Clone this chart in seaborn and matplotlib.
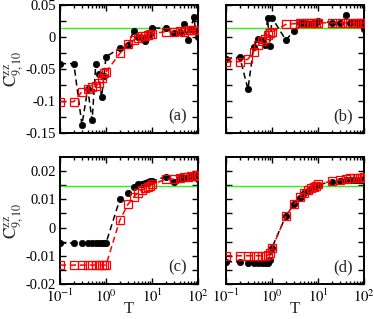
import numpy as np
import pandas as pd
import matplotlib
matplotlib.use('Agg')
import matplotlib.pyplot as plt
import seaborn as sns
from matplotlib.ticker import FixedLocator, FixedFormatter, LogLocator, NullFormatter

# temperature grid
T = [0.1, 0.2, 0.3, 0.4, 0.5, 0.6, 0.7, 0.8, 0.9,
     1, 2, 3, 4, 5, 6, 7, 8, 9,
     10, 20, 30, 40, 50, 60, 70, 80, 90, 100]

# (a)
a_black = [-0.042, -0.042, -0.138, -0.082, -0.131, -0.042, -0.058, -0.095, -0.062,
           -0.031, -0.018, -0.012, 0.009, 0.000, -0.002, -0.006, 0.002, 0.004,
           0.014, 0.0135, 0.006, 0.008, 0.020, -0.005, 0.012, 0.031, 0.010, 0.000]
a_red = [-0.1016, -0.1016, -0.086, -0.082, -0.078, -0.077, -0.073, -0.065, -0.056,
         -0.055, -0.026, -0.0115, -0.005, -0.001, 0.001, 0.002, 0.0036, 0.004,
         0.005, 0.0083, 0.0073, 0.0094, 0.008, 0.0104, 0.0104, 0.0115, 0.0104, 0.0115]

# (b)
b_black = [-0.034, -0.032, -0.082, -0.0156, -0.0026, -0.005, -0.013, 0.029, -0.0146,
           0.030, -0.005, 0.0094, 0.021, 0.021, 0.020, 0.020, 0.021, 0.022,
           0.025, 0.022, 0.021, 0.034, 0.022, 0.023, 0.021, 0.022, 0.022, 0.013]
b_red = [-0.039, -0.039, -0.035, -0.023, -0.013, -0.006, -0.0026, 0.0026, 0.006,
         0.008, 0.0195, 0.0206, 0.021, 0.022, 0.022, 0.022, 0.022, 0.022,
         0.022, 0.022, 0.022, 0.022, 0.022, 0.022, 0.022, 0.022, 0.022, 0.022]

# (c)
c_black = [-0.0055] * 10 + [0.010, 0.0121, 0.0145, 0.0153, 0.0156, 0.0159, 0.016, 0.0165,
                            0.0165, 0.018, 0.016, 0.0176, 0.0176, 0.018, 0.0182, 0.0184, 0.0182, 0.0172]
c_red = [-0.0133] * 10 + [0.0027, 0.0082, 0.0108, 0.0124, 0.0133, 0.0139, 0.0144, 0.0149,
                          0.0153, 0.0171, 0.0173, 0.0176, 0.018, 0.018, 0.0182, 0.0182, 0.0182, 0.0185]

# (d)
d_black = [-0.0121, -0.0121, -0.0124, -0.0124, -0.0124, -0.0124, -0.0124, -0.0124, -0.0115,
           -0.0071, 0.0041, 0.0082, 0.0106, 0.0122, 0.0131, 0.0137, 0.0143, 0.0147,
           0.0151, 0.0163, 0.0165, 0.0168, 0.0168, 0.0169, 0.0169, 0.017, 0.017, 0.0172]
d_red = [-0.010, -0.010, -0.010, -0.010, -0.010, -0.010, -0.010, -0.0098, -0.009,
         -0.0074, 0.0041, 0.0082, 0.0108, 0.0124, 0.0133, 0.0139, 0.0145, 0.0149,
         0.0153, 0.0165, 0.0168, 0.0173, 0.0174, 0.0175, 0.0176, 0.0176, 0.0177, 0.0178]

ref_level = 0.0147
panel_tags = ['(a)', '(b)', '(c)', '(d)']
top_yticks = [-0.15, -0.1, -0.05, 0, 0.05]
top_ylabels = ['-0.15', '-0.1', '-0.05', '0', '0.05']
bot_yticks = [-0.02, -0.01, 0, 0.01, 0.02]
bot_ylabels = ['-0.02', '-0.01', '0', '0.01', '0.02']
xticks = [0.1, 1, 10, 100]
xlabels = [r'$10^{-1}$', r'$10^{0}$', r'$10^{1}$', r'$10^{2}$']

sns.set_theme(style='ticks')
plt.rcParams['font.family'] = ['Liberation Serif', 'DejaVu Serif']
plt.rcParams['mathtext.fontset'] = 'stix'
plt.rcParams['axes.unicode_minus'] = False

fig = plt.figure(figsize=(3.74, 3.19), dpi=100)
W, H = 374, 319
boxes = [(60, 5, 138, 127.5), (226, 5, 138, 127.5),
         (60, 157, 138, 127), (226, 157, 138, 127)]
series = [(a_black, a_red), (b_black, b_red), (c_black, c_red), (d_black, d_red)]

for i, ((x0, y0, w, h), (blk, red)) in enumerate(zip(boxes, series)):
    ax = fig.add_axes([x0 / W, 1 - (y0 + h) / H, w / W, h / H])
    ax.axhline(ref_level, color='#33ee11', lw=1.0, zorder=1)
    df = pd.DataFrame({'T': T, 'black': blk, 'red': red})
    sns.lineplot(data=df, x='T', y='black', ax=ax, color='black',
                 lw=1.1, marker='o', markersize=4.6, markeredgecolor='black',
                 markerfacecolor='black', markeredgewidth=0.5, zorder=2)
    ax.lines[-1].set_linestyle((0, (4, 2.5)))
    sns.lineplot(data=df, x='T', y='red', ax=ax, color='red', lw=1.1,
                 marker='s', markersize=5.5, markeredgecolor='red',
                 markerfacecolor='none', markeredgewidth=0.9, zorder=3)
    ax.lines[-1].set_linestyle((0, (4, 2.5)))

    ax.set_xscale('log')
    ax.set_xlim(0.1, 100)
    ax.xaxis.set_major_locator(FixedLocator(xticks))
    ax.xaxis.set_minor_locator(LogLocator(base=10, subs=np.arange(2, 10)))
    ax.xaxis.set_minor_formatter(NullFormatter())
    if i < 2:
        ax.set_ylim(-0.15, 0.05)
        ax.yaxis.set_major_locator(FixedLocator(top_yticks))
        ax.yaxis.set_major_formatter(FixedFormatter(top_ylabels))
        ax.yaxis.set_minor_locator(FixedLocator([-0.125, -0.075, -0.025, 0.025]))
    else:
        ax.set_ylim(-0.02, 0.025)
        ax.yaxis.set_major_locator(FixedLocator(bot_yticks))
        ax.yaxis.set_major_formatter(FixedFormatter(bot_ylabels))
        ax.yaxis.set_minor_locator(FixedLocator([-0.015, -0.005, 0.005, 0.015]))
    if i >= 2:
        ax.xaxis.set_major_formatter(FixedFormatter(xlabels))
        ax.set_xlabel('T', fontsize=12)
        ax.xaxis.set_label_coords(0.5, -0.135)
    else:
        ax.set_xticklabels([])
        ax.set_xlabel('')
    if i % 2 == 0:
        ax.set_ylabel(r'$\mathrm{C}^{\mathrm{zz}}_{\mathrm{9,10}}$', fontsize=12.5)
        ax.yaxis.set_label_coords(-0.25, 0.5)
    else:
        ax.set_yticklabels([])
        ax.set_ylabel('')

    ax.tick_params(which='both', direction='in', top=True, right=True,
                   width=1.0, labelsize=10.5, colors='black', pad=3)
    ax.tick_params(which='major', length=4)
    ax.tick_params(which='minor', length=2.5)
    ax.tick_params(axis='y', which='minor', length=4)
    for s in ax.spines.values():
        s.set_linewidth(1.4)
        s.set_color('black')
    ax.text(0.85, 0.13, panel_tags[i], transform=ax.transAxes, fontsize=12,
            ha='center', va='center')

fig.savefig('out.png', dpi=100)
